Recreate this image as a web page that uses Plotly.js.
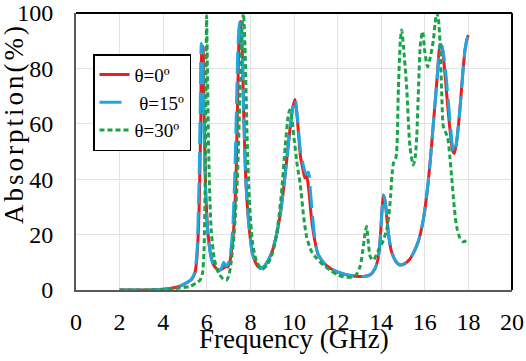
<!DOCTYPE html>
<html>
<head>
<meta charset="utf-8">
<script src="https://cdn.plot.ly/plotly-3.0.1.min.js"></script>
<style>
html,body{margin:0;padding:0;background:#fff;}
#chart{width:526px;height:361px;}
</style>
</head>
<body>
<div id="chart"></div>
<script>
// Frequency (GHz) and absorption (%)
const freq0 = [2,3,4,4.5,4.8,5.1,5.3,5.45,5.55,5.65,5.72,5.77,5.82,5.88,5.95,6.05,6.2,6.35,6.55,6.75,6.88,6.95,7.05,7.15,7.25,7.35,7.43,7.5,7.55,7.62,7.7,7.8,7.95,8.1,8.3,8.45,8.6,8.8,9.0,9.2,9.4,9.6,9.8,9.95,10.05,10.15,10.3,10.4,10.5,10.58,10.68,10.8,10.95,11.1,11.4,11.7,12.0,12.4,12.8,13.2,13.5,13.7,13.85,13.95,14.03,14.1,14.18,14.33,14.45,14.56,14.7,14.86,15.1,15.3,15.47,15.7,15.93,16.1,16.24,16.35,16.47,16.6,16.7,16.78,16.88,16.98,17.08,17.18,17.27,17.35,17.45,17.55,17.65,17.75,17.85,17.95,18.0];
const abs0  = [0,0,0.3,0.8,1.5,2.7,3.8,6,12,30,60,86,88,62,36,21,12,8.5,7.2,7.8,8.6,8.3,10,15,24,44,75,95,97,88,62,38,22,13,9,7.8,8.3,10.5,14,20,29,42,57,66,68.8,62,48,44,40.5,41,36,26,18,13,9.5,7.7,6.5,5.5,5,4.9,5.5,7.5,11,18,28,34.3,32,20.5,14.5,12,10,9,9.6,11,13.2,17.5,25.3,35,45.7,56,67.4,80,88.5,88,82,73,64,56,50.5,49.3,53,60,69,79,87,91,92];

const freq15 = [2,3,4,4.5,4.8,5.1,5.3,5.45,5.55,5.63,5.7,5.75,5.8,5.86,5.95,6.05,6.2,6.35,6.5,6.65,6.78,6.88,6.98,7.08,7.18,7.27,7.35,7.43,7.5,7.55,7.62,7.7,7.8,7.95,8.1,8.3,8.45,8.6,8.8,9.0,9.2,9.4,9.6,9.8,9.95,10.05,10.15,10.3,10.4,10.55,10.66,10.75,10.85,10.95,11.1,11.4,11.7,12.0,12.4,12.8,13.2,13.5,13.7,13.85,13.95,14.03,14.1,14.18,14.33,14.45,14.56,14.7,14.86,15.1,15.3,15.47,15.7,15.93,16.1,16.24,16.35,16.47,16.6,16.7,16.78,16.88,16.98,17.08,17.18,17.27,17.35,17.45,17.55,17.65,17.75,17.85,17.95,18.0];
const abs15  = [0,0,0.3,0.8,1.5,2.8,4,6.5,14,34,66,89,86,60,34,20,11.5,8,6.8,7.5,10,8.7,9.5,13,21,38,62,88,96,97,88,62,38,22,13,9,7.8,8.3,10.5,14,20,29,42,57,66,68.8,63,50,46,42,42.5,36,27,19,13,9.5,7.7,6.5,5.5,5,4.9,5.5,7.5,11,18,28,34.3,32,20.5,14.5,12,10,9,9.6,11,13.2,17.5,25.3,35,45.7,56,67.4,80,88.5,88,84,77,68,59,52,49.5,53,60,69,79,87,91,92];

const freq30 = [2,3,4,4.5,5.0,5.23,5.5,5.69,5.8,5.87,5.92,5.96,5.99,6.03,6.1,6.2,6.35,6.55,6.75,6.9,7.0,7.1,7.25,7.4,7.52,7.62,7.68,7.75,7.85,7.95,8.1,8.3,8.56,8.8,9.0,9.2,9.4,9.6,9.72,9.8,9.88,10.0,10.15,10.28,10.45,10.58,10.8,11.04,11.35,11.65,12.0,12.26,12.64,12.85,13.03,13.15,13.25,13.33,13.4,13.5,13.64,13.87,14.05,14.25,14.35,14.43,14.5,14.56,14.68,14.79,14.88,14.94,15.02,15.17,15.32,15.47,15.56,15.63,15.72,15.8,15.9,16.0,16.13,16.25,16.39,16.47,16.55,16.62,16.7,16.78,16.85,16.95,17.05,17.15,17.23,17.35,17.46,17.6,17.77,17.92];
const abs30  = [0,0,0.2,0.5,1,1.2,2.5,3.6,6,14,35,70,99,80,45,22,11,6,4,3.6,5,9,20,40,70,95,100,88,55,33,17,10,7.5,9.5,13,20,33,52,62,65,63,55,45,38.5,26,19.2,14,11.4,9,7.2,5.5,4.8,4.6,5.5,8.4,14,20,22.9,18,12,10.8,14.4,17,21.7,27,33.7,42,45.7,48,73,90,93.9,88,73,51.7,45.1,48,55.3,75,89,93.3,86,80.6,84,90,96,100,98,89,70,59,57,55,48,41,30,22.9,19,17.4,18];

const names = ['θ=0º','θ=15º','θ=30º'];
const colors = ['#ee1c1c','#1fa8e0','#1aa34a'];
const tickVals = [0,2,4,6,8,10,12,14,16,18,20];
const yTickVals = [0,20,40,60,80,100];
const xTitle = 'Frequency (GHz)';
const yTitle = 'Absorption(%)';

const serif = 'Times New Roman, Liberation Serif, serif';

const traces = [
  {x: freq0, y: abs0, name: names[0], mode: 'lines',
   line: {color: colors[0], width: 3, shape: 'spline', smoothing: 0.7}},
  {x: freq15, y: abs15, name: ' ' + names[1], mode: 'lines',
   line: {color: colors[1], width: 3, shape: 'spline', smoothing: 0.7, dash: '22px,8px'}},
  {x: freq30, y: abs30, name: names[2], mode: 'lines',
   line: {color: colors[2], width: 3, shape: 'spline', smoothing: 0.7, dash: '5px,3px'}}
];

const layout = {
  width: 526, height: 361,
  margin: {l: 76, r: 14, t: 13, b: 71},
  paper_bgcolor: '#fff', plot_bgcolor: '#fff',
  showlegend: true,
  legend: {
    x: 0.039, y: 0.851, xanchor: 'left', yanchor: 'top',
    bgcolor: '#fff', bordercolor: '#000', borderwidth: 1.5,
    font: {family: serif, size: 19, color: '#000'},
    itemwidth: 30, tracegroupgap: 0
  },
  xaxis: {
    range: [0, 20], tickvals: tickVals, ticktext: tickVals.map(String),
    showgrid: true, gridcolor: '#e3e3e3', gridwidth: 1,
    zeroline: false, showline: true, linecolor: '#595959', linewidth: 2,
    ticks: '', ticklabelstandoff: 9,
    tickfont: {family: serif, size: 24, color: '#000'}
  },
  yaxis: {
    range: [0, 100], tickvals: yTickVals, ticktext: yTickVals.map(String),
    showgrid: true, gridcolor: '#e3e3e3', gridwidth: 1,
    zeroline: false, showline: true, linecolor: '#595959', linewidth: 2,
    ticks: '', ticklabelstandoff: 16,
    tickfont: {family: serif, size: 24, color: '#000'}
  },
  annotations: [
    {text: yTitle, xref: 'paper', yref: 'paper',
     x: -0.143, y: 0.6, xanchor: 'center', yanchor: 'middle', textangle: -90,
     showarrow: false, font: {family: serif, size: 27, color: '#000'}},
    {text: xTitle, xref: 'paper', yref: 'paper',
     x: 0.5, y: -0.114, xanchor: 'center', yanchor: 'top',
     showarrow: false, font: {family: serif, size: 27, color: '#000'}}
  ],
  shapes: [
    {type: 'line', xref: 'paper', yref: 'paper', x0: 0, x1: 1, y0: 1, y1: 1, line: {color: '#000', width: 2}},
    {type: 'line', xref: 'paper', yref: 'paper', x0: 1, x1: 1, y0: 0, y1: 1, line: {color: '#000', width: 2}}
  ]
};

Plotly.newPlot('chart', traces, layout, {displayModeBar: false, staticPlot: true}).then(function (gd) {
  // stretch the vertical title like the reference (letter spacing only)
  const t = gd.querySelector('.annotation[data-index="0"] .annotation-text');
  if (t) t.style.letterSpacing = '3px';
});
</script>
</body>
</html>
